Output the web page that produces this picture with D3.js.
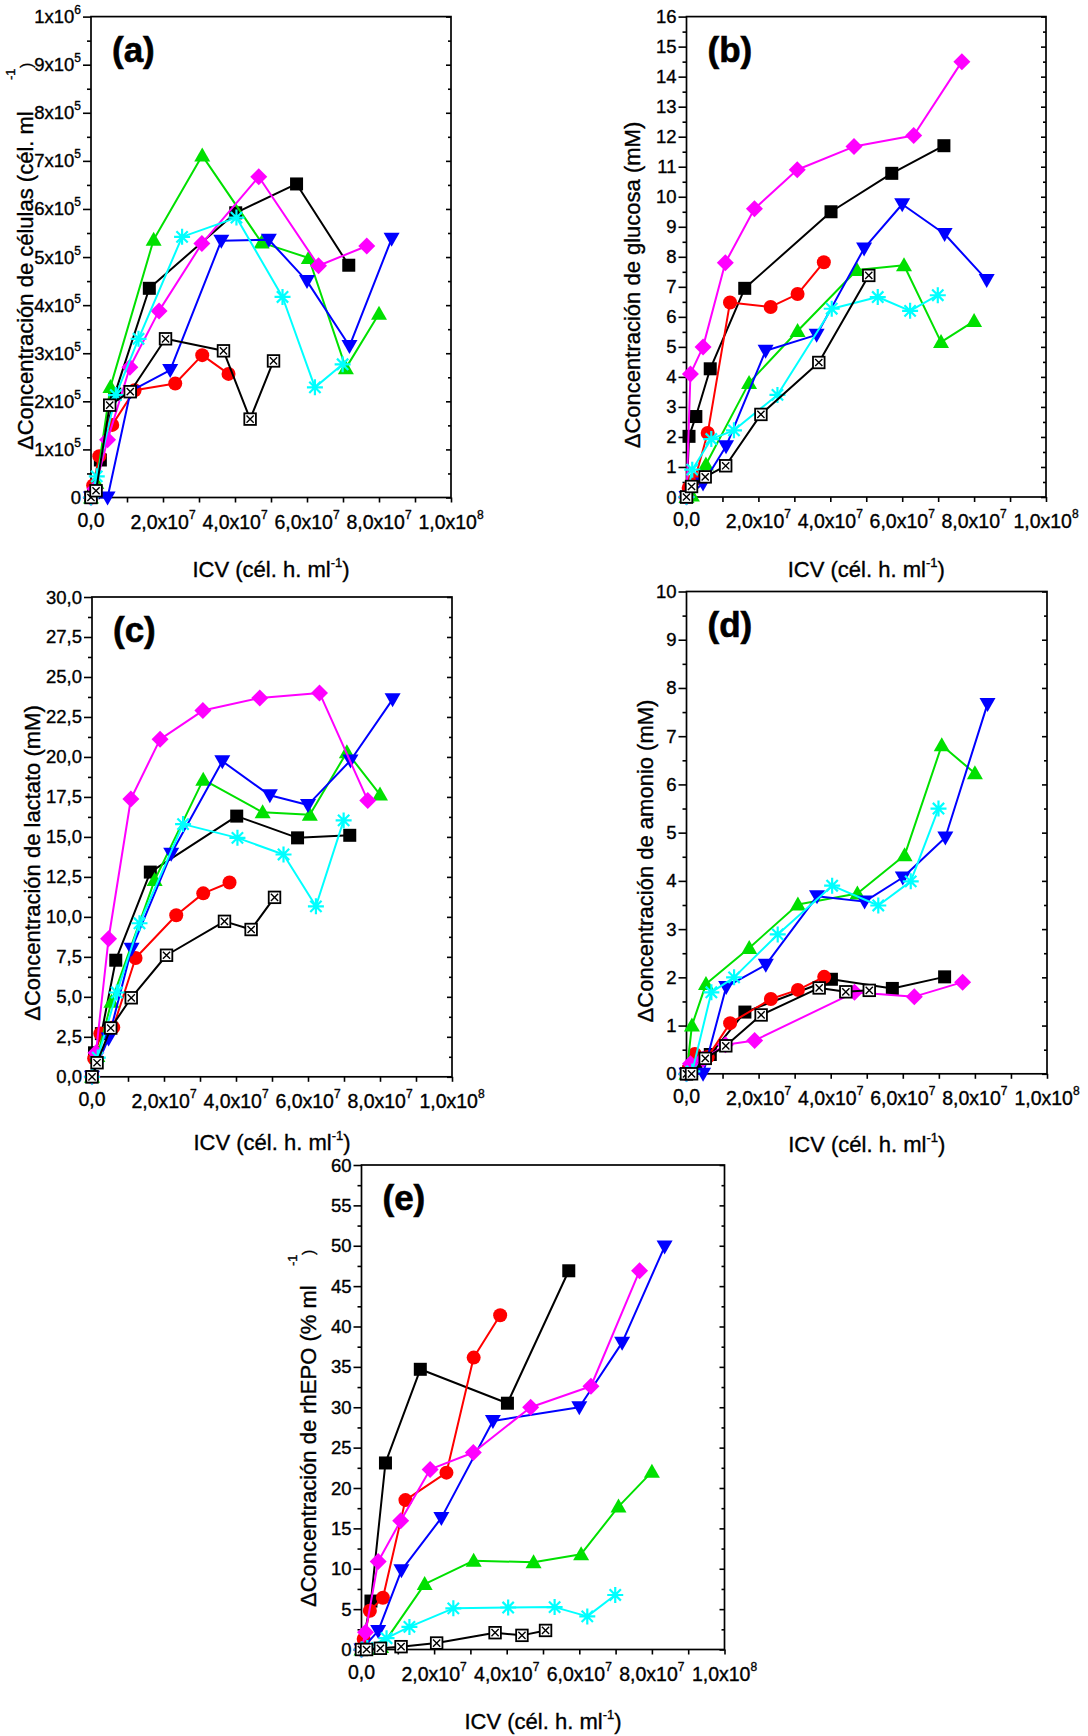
<!DOCTYPE html>
<html>
<head>
<meta charset="utf-8">
<script src="https://cdn.jsdelivr.net/npm/d3@7/dist/d3.min.js"></script>
<style>
  html, body { margin: 0; padding: 0; background: #fff; }
  svg text { font-family: "Liberation Sans", Arial, Helvetica, sans-serif; fill: #000; stroke: #000; stroke-width: 0.35px; }
  svg text.tag { stroke-width: 0.6px; }
</style>
</head>
<body>
<svg id="fig" width="1088" height="1736"></svg>
<script>
// ---------------------------------------------------------------------------
// ICV (cél. h. ml-1) at each sampling point, one array per culture
// ---------------------------------------------------------------------------
const icvSquare  = [0, 0.07e7, 0.26e7, 0.66e7, 1.62e7, 4.02e7, 5.71e7, 7.16e7];
const icvCircle  = [0, 0.06e7, 0.23e7, 0.59e7, 1.21e7, 2.34e7, 3.09e7, 3.82e7];
const icvUp      = [0, 0.15e7, 0.54e7, 1.74e7, 3.09e7, 4.74e7, 6.05e7, 7.08e7, 8.0e7];
const icvDown    = [0, 0.46e7, 1.10e7, 2.20e7, 3.62e7, 4.94e7, 6.00e7, 7.18e7, 8.35e7];
const icvDiamond = [0, 0.11e7, 0.46e7, 1.08e7, 1.89e7, 3.08e7, 4.66e7, 6.32e7, 7.66e7];
const icvStar    = [0, 0.16e7, 0.69e7, 1.32e7, 2.53e7, 4.04e7, 5.32e7, 6.22e7, 6.99e7];
const icvCrossSq = [0, 0.14e7, 0.52e7, 1.09e7, 2.07e7, 3.68e7, 4.42e7, 5.07e7];

// Measured variables, rows in culture order:
// square, circle, triangle up, triangle down, diamond, asterisk, crossed square
// (null = not measured at that point)

// (a) ΔConcentración de células (cél. ml-1)
const cellsValues = [
  [0, 0.10e5, 0.78e5, 2.15e5, 4.35e5, 5.92e5, 6.52e5, 4.83e5],
  [0, 0.25e5, 0.86e5, 1.51e5, 2.23e5, 2.37e5, 2.96e5, 2.57e5],
  [0, 0.30e5, 2.30e5, 5.36e5, 7.11e5, 5.30e5, 4.98e5, 2.69e5, 3.82e5],
  [0, 0, 2.21e5, 2.65e5, 5.34e5, 5.36e5, 4.50e5, 3.15e5, 5.38e5],
  [0, 0.18e5, 1.20e5, 2.71e5, 3.88e5, 5.28e5, 6.67e5, 4.82e5, 5.23e5],
  [0, 0.44e5, 2.13e5, 3.30e5, 5.42e5, 5.82e5, 4.17e5, 2.29e5, 2.77e5],
  [0, 0.14e5, 1.92e5, 2.20e5, 3.30e5, 3.05e5, 1.63e5, 2.84e5]
];

// (b) ΔConcentración de glucosa (mM)
const glucoseValues = [
  [0, 2.02, 2.68, 4.27, 6.95, 9.50, 10.78, 11.70],
  [0, 0.30, 0.58, 2.13, 6.48, 6.33, 6.76, 7.82],
  [0, 0.05, 1.08, 3.80, 5.53, 7.56, 7.72, 5.16, 5.86],
  [0, 0.45, 1.69, 4.87, 5.40, 8.28, 9.75, 8.76, 7.23],
  [0, 4.10, 5.00, 7.80, 9.60, 10.90, 11.67, 12.04, 14.50],
  [0, 0.91, 1.93, 2.22, 3.40, 6.27, 6.66, 6.20, 6.72],
  [0, 0.35, 0.67, 1.04, 2.75, 4.48, null, 7.38]
];

// (c) ΔConcentración de lactato (mM)
const lactateValues = [
  [0, 1.50, 2.70, 7.29, 12.80, 16.30, 14.94, 15.10],
  [0, 1.15, 2.70, 3.09, 7.43, 10.10, 11.47, 12.15],
  [0, 1.30, 4.70, 12.30, 18.58, 16.54, 16.38, 20.30, 17.65],
  [0, 2.40, 8.00, 13.95, 19.73, 17.60, 17.00, 19.78, 23.60],
  [0, 1.50, 8.63, 17.37, 21.10, 22.90, 23.69, 24.00, 17.28],
  [0, 1.20, 5.27, 9.60, 15.80, 14.94, 13.90, 10.66, 16.03],
  [0, 0.88, 3.05, 4.94, 7.60, 9.72, 9.21, 11.22]
];

// (d) ΔConcentración de amonio (mM)
const ammoniumValues = [
  [0, 0.05, 0.20, 0.40, 1.28, 1.96, 1.77, 2.01],
  [0, 0.10, 0.41, 0.35, 1.05, 1.55, 1.74, 2.01],
  [0, 1.00, 1.86, 2.61, 3.51, 3.74, 4.53, 6.81, 6.23],
  [0, 0, 1.80, 2.26, 3.68, 3.57, 4.07, 4.90, 7.67],
  [0, 0.21, 0.30, 0.60, 0.69, null, 1.69, 1.60, 1.90],
  [0, 0.05, 1.69, 2.00, 2.89, 3.90, 3.49, 3.99, 5.50],
  [0, 0, 0.32, 0.58, 1.22, 1.78, 1.70, 1.73]
];

// (e) ΔConcentración de rhEPO (% ml-1)
const rhepoValues = [
  [0, null, 6.00, 23.10, 34.70, 30.50, 46.90, null],
  [0, 1.30, 4.80, 6.40, 18.50, 21.90, 36.15, 41.40],
  [0, 0.05, 0.30, 8.10, 11.00, 10.80, 11.80, 17.70, 22.00],
  [0, 2.30, 9.80, 16.30, 28.30, null, 30.00, 38.00, 49.90],
  [0, 2.15, 10.90, 15.95, 22.30, 24.40, 30.00, 32.60, 46.90],
  [0, 0.20, 1.40, 2.80, 5.10, 5.20, 5.25, 4.10, 6.75],
  [0, 0, 0.15, 0.35, 0.80, 2.08, 1.75, 2.36]
];

// ---------------------------------------------------------------------------
// Tick values and labels
// ---------------------------------------------------------------------------
const xTicks     = [0, 2e7, 4e7, 6e7, 8e7, 1e8];
const xTickText  = ['0,0', '2,0x10', '4,0x10', '6,0x10', '8,0x10', '1,0x10'];
const xTickExp   = ['', '7', '7', '7', '7', '8'];

const cellTicks    = [0, 1e5, 2e5, 3e5, 4e5, 5e5, 6e5, 7e5, 8e5, 9e5, 1e6];
const cellTickText = ['0', '1x10', '2x10', '3x10', '4x10', '5x10', '6x10', '7x10', '8x10', '9x10', '1x10'];
const cellTickExp  = ['', '5', '5', '5', '5', '5', '5', '5', '5', '5', '6'];

const glucoseTicks    = [0, 1, 2, 3, 4, 5, 6, 7, 8, 9, 10, 11, 12, 13, 14, 15, 16];
const glucoseTickText = ['0', '1', '2', '3', '4', '5', '6', '7', '8', '9', '10', '11', '12', '13', '14', '15', '16'];

const lactateTicks    = [0, 2.5, 5, 7.5, 10, 12.5, 15, 17.5, 20, 22.5, 25, 27.5, 30];
const lactateTickText = ['0,0', '2,5', '5,0', '7,5', '10,0', '12,5', '15,0', '17,5', '20,0', '22,5', '25,0', '27,5', '30,0'];

const ammoniumTicks    = [0, 1, 2, 3, 4, 5, 6, 7, 8, 9, 10];
const ammoniumTickText = ['0', '1', '2', '3', '4', '5', '6', '7', '8', '9', '10'];

const rhepoTicks    = [0, 5, 10, 15, 20, 25, 30, 35, 40, 45, 50, 55, 60];
const rhepoTickText = ['0', '5', '10', '15', '20', '25', '30', '35', '40', '45', '50', '55', '60'];

// ---------------------------------------------------------------------------
// Culture styles (same order as the value rows)
// ---------------------------------------------------------------------------
const series = [
  { icv: icvSquare,  color: '#000000', marker: 'square' },
  { icv: icvCircle,  color: '#ff0000', marker: 'circle' },
  { icv: icvUp,      color: '#00e000', marker: 'up' },
  { icv: icvDown,    color: '#0000ff', marker: 'down' },
  { icv: icvDiamond, color: '#ff00ff', marker: 'diamond' },
  { icv: icvStar,    color: '#00ffff', marker: 'star' },
  { icv: icvCrossSq, color: '#000000', marker: 'crossSquare' }
];

// Panel layout
const panels = [
  { tag: '(a)', values: cellsValues, ticks: cellTicks, tickText: cellTickText, tickExp: cellTickExp,
    l: 91, r: 451, t: 16.6, b: 497.5, xTitleY: 577,
    yTitle: 'ΔConcentración de células (cél. ml', yTitleX: 33, yTitleAnchor: 'start', yTitlePos: 450,
    detached: [{ text: '-1', x: 15, y: 80, size: 13 }, { text: ')', x: 32, y: 68, size: 16 }] },
  { tag: '(b)', values: glucoseValues, ticks: glucoseTicks, tickText: glucoseTickText,
    l: 686.5, r: 1046, t: 16.6, b: 497, xTitleY: 577,
    yTitle: 'ΔConcentración de glucosa (mM)', yTitleX: 640, yTitleAnchor: 'middle', yTitlePos: 285 },
  { tag: '(c)', values: lactateValues, ticks: lactateTicks, tickText: lactateTickText,
    l: 92, r: 452, t: 597, b: 1076.8, xTitleY: 1150,
    yTitle: 'ΔConcentración de lactato (mM)', yTitleX: 40, yTitleAnchor: 'middle', yTitlePos: 863 },
  { tag: '(d)', values: ammoniumValues, ticks: ammoniumTicks, tickText: ammoniumTickText,
    l: 686.5, r: 1047, t: 591.5, b: 1073.8, xTitleY: 1152,
    yTitle: 'ΔConcentración de amonio (mM)', yTitleX: 653, yTitleAnchor: 'middle', yTitlePos: 861 },
  { tag: '(e)', values: rhepoValues, ticks: rhepoTicks, tickText: rhepoTickText,
    l: 361.5, r: 724.5, t: 1165, b: 1649.5, xTitleY: 1729,
    yTitle: 'ΔConcentración de rhEPO (% ml', yTitleX: 316, yTitleAnchor: 'start', yTitlePos: 1607,
    detached: [{ text: '-1', x: 297, y: 1266, size: 13 }, { text: ')', x: 314, y: 1255, size: 16 }] }
];

const svg = d3.select('#fig');
const X_TICK_FONT = 19.5;
const Y_TICK_FONT = 18.5;
const SUP_FONT = 12;
const TITLE_FONT = 22;

// Marker shapes, drawn around (0,0)
function drawMarker(g, type, color) {
  switch (type) {
    case 'square':
      g.append('rect').attr('x', -6.5).attr('y', -6.5).attr('width', 13).attr('height', 13).attr('fill', color);
      break;
    case 'circle':
      g.append('circle').attr('r', 7).attr('fill', color);
      break;
    case 'up':
      g.append('path').attr('d', 'M0,-8L8,6L-8,6Z').attr('fill', color);
      break;
    case 'down':
      g.append('path').attr('d', 'M0,8L8,-6L-8,-6Z').attr('fill', color);
      break;
    case 'diamond':
      g.append('path').attr('d', 'M0,-8.5L8.5,0L0,8.5L-8.5,0Z').attr('fill', color);
      break;
    case 'star': {
      const a = 8, d = 8 * Math.SQRT1_2;
      g.append('path')
        .attr('d', `M${-a},0L${a},0M0,${-a}L0,${a}M${-d},${-d}L${d},${d}M${-d},${d}L${d},${-d}`)
        .attr('stroke', color).attr('stroke-width', 2.2).attr('fill', 'none');
      break;
    }
    case 'crossSquare':
      g.append('rect').attr('x', -5.8).attr('y', -5.8).attr('width', 11.6).attr('height', 11.6)
        .attr('fill', '#fff').attr('stroke', color).attr('stroke-width', 1.8);
      g.append('path').attr('d', 'M-3.6,-3.6L3.6,3.6M-3.6,3.6L3.6,-3.6')
        .attr('stroke', color).attr('stroke-width', 1.4).attr('fill', 'none');
      break;
  }
}

function midpoints(arr) {
  return d3.pairs(arr).map(([a, b]) => (a + b) / 2);
}

function styleAxis(sel) {
  sel.select('.domain').remove();
  sel.selectAll('.tick line').attr('stroke', '#000').attr('stroke-width', 1.6);
}

panels.forEach(p => {
  const x = d3.scaleLinear().domain([0, 1e8]).range([p.l, p.r]);
  const yMax = p.ticks[p.ticks.length - 1];
  const y = d3.scaleLinear().domain([0, yMax]).range([p.b, p.t]);
  const g = svg.append('g');

  // bottom ticks (major + minor)
  g.append('g').attr('transform', `translate(0,${p.b})`)
    .call(d3.axisBottom(x).tickValues(xTicks.concat(midpoints(xTicks))).tickSize(5).tickFormat(''))
    .call(styleAxis);

  // left ticks, outward
  g.append('g').attr('transform', `translate(${p.l},0)`)
    .call(d3.axisLeft(y).tickValues(p.ticks).tickSize(8).tickFormat(''))
    .call(styleAxis);
  g.append('g').attr('transform', `translate(${p.l},0)`)
    .call(d3.axisLeft(y).tickValues(midpoints(p.ticks)).tickSize(4).tickFormat(''))
    .call(styleAxis);

  // right ticks, inward
  g.append('g').attr('transform', `translate(${p.r},0)`)
    .call(d3.axisLeft(y).tickValues(p.ticks).tickSize(5).tickFormat(''))
    .call(styleAxis);
  g.append('g').attr('transform', `translate(${p.r},0)`)
    .call(d3.axisLeft(y).tickValues(midpoints(p.ticks)).tickSize(3).tickFormat(''))
    .call(styleAxis);

  // frame
  g.append('rect')
    .attr('x', p.l).attr('y', p.t)
    .attr('width', p.r - p.l).attr('height', p.b - p.t)
    .attr('fill', 'none').attr('stroke', '#000').attr('stroke-width', 1.7);

  // x tick labels
  xTicks.forEach((v, i) => {
    const t = g.append('text')
      .attr('x', x(v))
      .attr('y', p.b + (xTickExp[i] ? 31 : 29))
      .attr('text-anchor', 'middle')
      .attr('font-size', X_TICK_FONT)
      .text(xTickText[i]);
    if (xTickExp[i]) {
      t.append('tspan').attr('dy', -10).attr('font-size', SUP_FONT).text(xTickExp[i]);
    }
  });

  // y tick labels
  p.ticks.forEach((v, i) => {
    const t = g.append('text')
      .attr('x', p.l - 10)
      .attr('y', y(v) + 6.5)
      .attr('text-anchor', 'end')
      .attr('font-size', Y_TICK_FONT)
      .text(p.tickText[i]);
    if (p.tickExp && p.tickExp[i]) {
      t.append('tspan').attr('dy', -9).attr('font-size', SUP_FONT).text(p.tickExp[i]);
    }
  });

  // x title
  const xt = g.append('text')
    .attr('x', (p.l + p.r) / 2)
    .attr('y', p.xTitleY)
    .attr('text-anchor', 'middle')
    .attr('font-size', TITLE_FONT)
    .text('ICV (cél. h. ml');
  xt.append('tspan').attr('dy', -10).attr('font-size', 13).text('-1');
  xt.append('tspan').attr('dy', 10).attr('font-size', TITLE_FONT).text(')');

  // y title
  g.append('text')
    .attr('transform', `translate(${p.yTitleX},${p.yTitlePos}) rotate(-90)`)
    .attr('text-anchor', p.yTitleAnchor)
    .attr('font-size', TITLE_FONT)
    .text(p.yTitle);
  (p.detached || []).forEach(d => {
    g.append('text')
      .attr('transform', `translate(${d.x},${d.y}) rotate(-90)`)
      .attr('text-anchor', 'start')
      .attr('font-size', d.size)
      .text(d.text);
  });

  // panel tag
  g.append('text')
    .attr('class', 'tag')
    .attr('x', p.l + 21)
    .attr('y', p.t + 45)
    .attr('font-size', 35)
    .attr('font-weight', 'bold')
    .text(p.tag);

  // cultures: line then markers
  const line = d3.line().x(d => x(d[0])).y(d => y(d[1]));
  series.forEach((s, i) => {
    const pts = s.icv
      .map((v, j) => [v, p.values[i][j]])
      .filter(d => d[1] !== null && d[1] !== undefined);
    const sg = g.append('g');
    sg.append('path').datum(pts)
      .attr('d', line)
      .attr('fill', 'none')
      .attr('stroke', s.color)
      .attr('stroke-width', 2)
      .attr('stroke-linejoin', 'round');
    sg.selectAll('g.pt').data(pts).join('g')
      .attr('class', 'pt')
      .attr('transform', d => `translate(${x(d[0])},${y(d[1])})`)
      .each(function () { drawMarker(d3.select(this), s.marker, s.color); });
  });
});
</script>
</body>
</html>
